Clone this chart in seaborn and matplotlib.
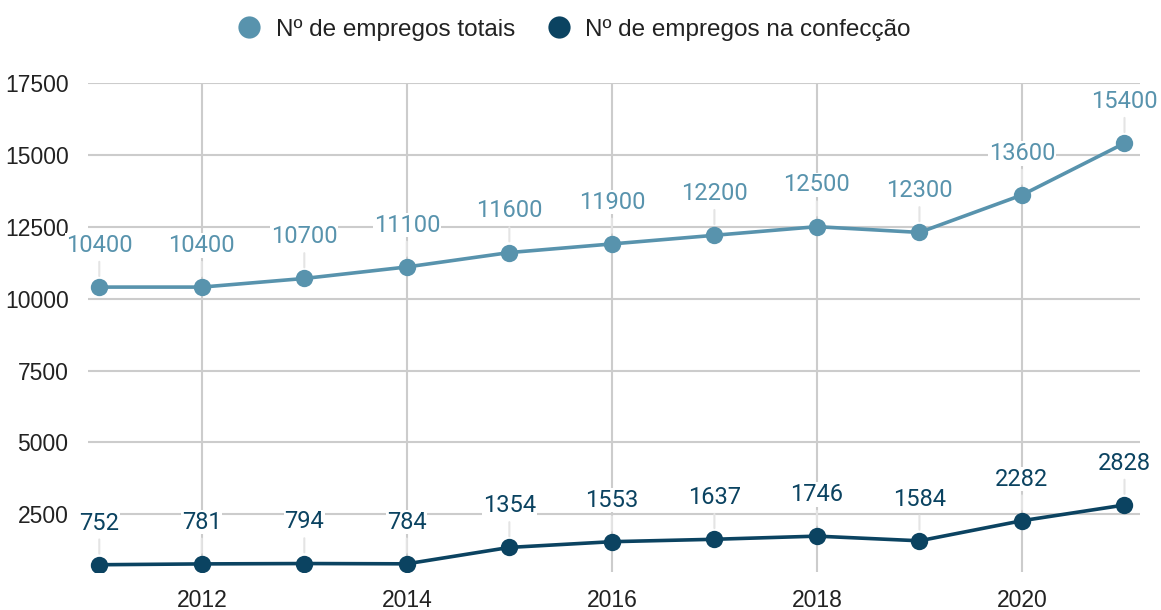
import pandas as pd
import seaborn as sns
import matplotlib.pyplot as plt
from matplotlib.lines import Line2D

anos = [2011, 2012, 2013, 2014, 2015, 2016, 2017, 2018, 2019, 2020, 2021]
totais = [10400, 10400, 10700, 11100, 11600, 11900, 12200, 12500, 12300, 13600, 15400]
confeccao = [752, 781, 794, 784, 1354, 1553, 1637, 1746, 1584, 2282, 2828]
nomes = ["Nº de empregos totais", "Nº de empregos na confecção"]
cores = ["#5893ad", "#0b4361"]

df = pd.DataFrame({"ano": anos * 2,
                   "valor": totais + confeccao,
                   "serie": [nomes[0]] * len(anos) + [nomes[1]] * len(anos)})

sns.set_theme(style="white")
plt.rcParams['font.family'] = ['Liberation Sans', 'DejaVu Sans']

fig = plt.figure(figsize=(11.61, 6.10), dpi=100)
ax = fig.add_axes([0.0758, 0.0623, 0.906, 0.802])

sns.lineplot(data=df, x="ano", y="valor", hue="serie", palette=cores,
             marker="o", markersize=12.5, markeredgewidth=0, linewidth=2.6,
             legend=False, ax=ax, zorder=3)

# rótulos de dados
for serie, cor in zip(nomes, cores):
    sub = df[df.serie == serie]
    for x, y in zip(sub.ano, sub.valor):
        ax.annotate(str(y), (x, y), xytext=(0, 30), textcoords="offset points",
                    ha="center", va="center", fontsize=17, color=cor,
                    family=["Roboto", "DejaVu Sans"],
                    bbox=dict(fc="white", ec="none", pad=0.5),
                    arrowprops=dict(arrowstyle="-", color="#e4e4e4", lw=1.5,
                                    shrinkA=3, shrinkB=8),
                    zorder=2)

ax.set_xlim(2010.89, 2021.15)
ax.set_ylim(500, 17500)
ax.set_xticks([2012, 2014, 2016, 2018, 2020])
ax.set_yticks([2500, 5000, 7500, 10000, 12500, 15000, 17500])
ax.grid(True, color="#cccccc", linewidth=1.5, zorder=0)
ax.set_axisbelow(True)
for s in ax.spines.values():
    s.set_visible(False)
ax.tick_params(axis="both", length=0, labelsize=16.5, labelcolor="#222222")
ax.tick_params(axis="y", pad=14)
ax.tick_params(axis="x", pad=12)
ax.set_xlabel("")
ax.set_ylabel("")

handles = [Line2D([], [], marker="o", linestyle="none", markersize=16,
                  markerfacecolor=c, markeredgewidth=0) for c in cores]
fig.legend(handles, nomes, loc="center", bbox_to_anchor=(0.489, 0.951), ncol=2,
           frameon=False, fontsize=17.5, handletextpad=0.1, columnspacing=0.8,
           labelcolor="#222222")

fig.savefig("out.png", dpi=100)
